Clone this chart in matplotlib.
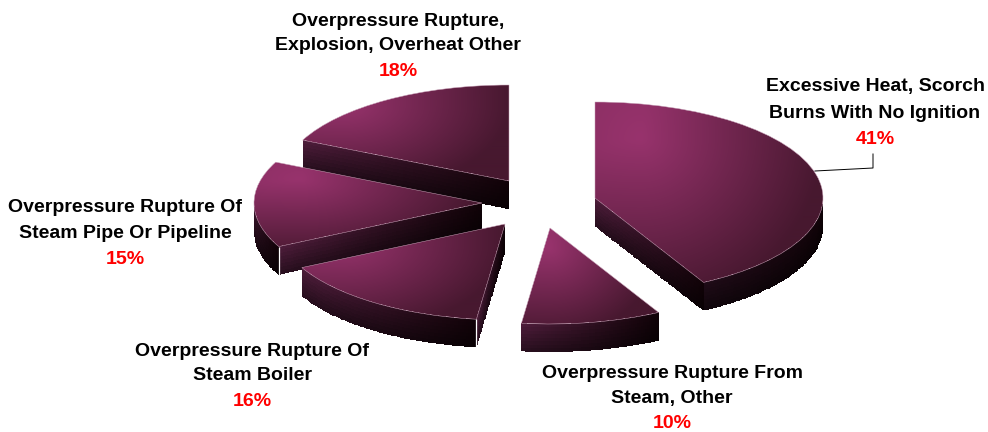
import numpy as np
import matplotlib
matplotlib.use('Agg')
import matplotlib.pyplot as plt
from matplotlib.colors import to_rgb
from matplotlib.transforms import Affine2D

###  slice sizes, labels as printed on it
sliceShare = [42.1, 9.9, 15.5, 14.5, 18.0]
pctLabels = ['41%', '10%', '16%', '15%', '18%']
sliceNames = [['Excessive Heat, Scorch', 'Burns With No Ignition'],
              ['Overpressure Rupture From', 'Steam, Other'],
              ['Overpressure Rupture Of', 'Steam Boiler'],
              ['Overpressure Rupture Of', 'Steam Pipe Or Pipeline'],
              ['Overpressure Rupture,', 'Explosion, Overheat Other']]

###  layout, in pixels
apex = [(595, 198), (550, 228), (505, 224), (482, 203), (509, 181)]
labelX = [875, 672, 252, 125, 398]
labelY = [(86, 113, 139), (373, 398, 424), (351, 375, 401),
          (207, 233, 259), (22, 46, 71)]
radX, radY, depth = 228, 96, 28
rimStart = [0.4, 1.0, 1.0, 0.8, 1.0]
drawOrder = [4, 3, 2, 0, 1]
whiteSeam = [2, 3]

bright = np.array(to_rgb('#98336D'))
dark = np.array(to_rgb('#47182F'))
sideLeft = np.array(to_rgb('#4C1C39'))
sideRight = np.array(to_rgb('#100207'))


def topGradient(x0, x1, y0, y1):
    #  glow sits up and to the left, mostly fading towards the right
    xs = np.arange(x0, x1+1)
    ys = np.arange(y0, y1+1)
    gx, gy = np.meshgrid(xs, ys)
    cx = x0 + 0.2*(x1-x0)
    cy = y0 + 0.2*(y1-y0)
    dx = (gx-cx)/(x1-cx)
    dy = (gy-cy)/(y1-cy)
    dx = np.where(dx < 0, dx*0.4, dx)
    dy = np.where(dy < 0, dy*0.3, dy*0.85)
    t = np.clip(np.hypot(dx, dy), 0, 1)[..., None]
    return bright*(1-t) + dark*t


def sideFace(ax, xs, ys, start, order):
    #  resample so the shading runs in narrow vertical bands
    dist = np.hypot(np.diff(xs), np.diff(ys)).cumsum()
    dist = np.insert(dist, 0, 0)
    s = np.arange(0, dist[-1]+2, 2.0)
    s[-1] = dist[-1]
    px = np.interp(s, dist, xs)
    py = np.interp(s, dist, ys)
    rows = np.linspace(0, depth, 9)
    X = np.tile(px, (len(rows), 1))
    Y = py + rows[:, None]
    tx = np.linspace(0, 1, len(px)-1)[None, :, None]
    tv = np.linspace(0, 1, len(rows)-1)[:, None, None]
    col = (sideLeft*start*(1-tx) + sideRight*tx)*(1-0.45*tv)
    ax.pcolormesh(X, Y, col, shading='flat', zorder=order)


fig = plt.figure(figsize=(9.88, 4.32), dpi=100)
ax = fig.add_axes([0, 0, 1, 1])

wedges, _ = ax.pie(sliceShare, startangle=90, counterclock=False, radius=1)

for rank, i in enumerate(drawOrder):
    w = wedges[i]
    ax0, ay0 = apex[i]
    toPx = Affine2D().scale(radX, -radY).translate(ax0, ay0)
    z = 2 + rank*3

    ang = np.radians(np.linspace(w.theta1, w.theta2, 120))
    rimx = ax0 + radX*np.cos(ang)
    rimy = ay0 - radY*np.sin(ang)

    ###  the side walls that face the viewer
    if np.cos(ang[0]) > 0:
        sideFace(ax, [ax0, rimx[0]], [ay0, rimy[0]], 1.0, z)
    low = np.sin(ang) < 0
    if low.sum() > 1:
        sideFace(ax, rimx[low], rimy[low], rimStart[i], z)
    if np.cos(ang[-1]) < 0:
        sideFace(ax, [rimx[-1], ax0], [rimy[-1], ay0], 1.0, z)

    ###  top face, gradient clipped to the slice
    allx = np.append(rimx, ax0)
    ally = np.append(rimy, ay0)
    x0, x1 = int(allx.min()), int(allx.max())+1
    y0, y1 = int(ally.min()), int(ally.max())+1
    im = ax.imshow(topGradient(x0, x1, y0, y1), extent=(x0, x1, y1, y0),
                   aspect='auto', interpolation='bilinear', zorder=z+1)
    w.set_transform(toPx + ax.transData)
    w.set_facecolor('none')
    w.set_edgecolor('#C8A2B8')
    w.set_linewidth(0.35)
    w.set_zorder(z+2)
    im.set_clip_path(w)

    if i in whiteSeam:
        ax.plot([rimx[-1], rimx[-1]], [rimy[-1], rimy[-1]+depth], color='white',
                lw=0.9, solid_capstyle='butt', zorder=z+2)

###  leader from the big slice up to its label
ax.plot([815, 873, 873], [171, 168, 154], color='black', lw=0.7, zorder=40)

for i, name in enumerate(sliceNames):
    for line, y in zip(name, labelY[i]):
        ax.text(labelX[i], y, line, ha='center', va='center', color='black',
                fontsize=14, fontweight='bold', family='Liberation Sans',
                zorder=50)
    ax.text(labelX[i], labelY[i][2], pctLabels[i], ha='center', va='center',
            color='#FF0000', fontsize=14, fontweight='bold',
            family='Liberation Sans', zorder=50)

ax.set_aspect('auto')
ax.set_xlim(0, 988)
ax.set_ylim(432, 0)
ax.axis('off')

fig.savefig('out.png', dpi=100, facecolor='white')
